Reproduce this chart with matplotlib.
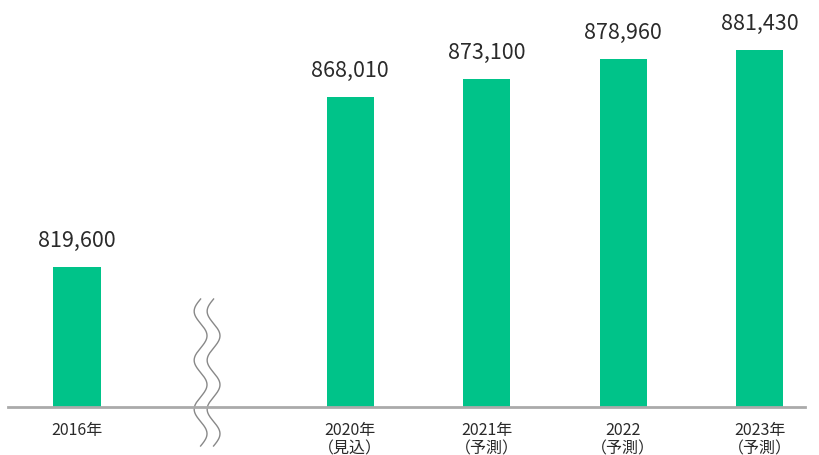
import numpy as np
import matplotlib
matplotlib.use('Agg')
from matplotlib import pyplot as plt

plt.rcParams['font.family'] = ['Noto Sans CJK JP', 'DejaVu Sans']

labels = ['2016年', '2020年\n（見込）', '2021年\n（予測）', '2022\n（予測）', '2023年\n（予測）']
values = [819600, 868010, 873100, 878960, 881430]
value_text = ['819,600', '868,010', '873,100', '878,960', '881,430']
pos = [0, 2, 3, 4, 5]  # slot 1 left empty for the axis break

fig = plt.figure(figsize=(8.2, 4.56), dpi=100)
ax = fig.add_axes([8/820, 48/456, 797/820, 408/456])

base = 779505
per_px = 285.5
ax.bar(pos, [v - base for v in values], bottom=base, width=0.345, color='#00C389')
ax.set_xlim(-0.505, 5.33)
ax.set_ylim(base, base + 408*per_px)

for p, v, t in zip(pos, values, value_text):
    ax.text(p, v + 16*per_px, t, ha='center', va='bottom', fontsize=15.5, color='#2a2a2a')

for p, l in zip(pos, labels):
    ax.text(p, base - 14*per_px, l, ha='center', va='top', fontsize=11.5, color='#2a2a2a',
            linespacing=1.15)

for s in ['top', 'right', 'left']:
    ax.spines[s].set_visible(False)
ax.spines['bottom'].set_color('#AAAAAA')
ax.spines['bottom'].set_linewidth(2)
ax.set_xticks([])
ax.set_yticks([])

# wavy break marks
yy = np.linspace(base + 108*per_px, base - 39*per_px, 200)
ph = np.linspace(0, 3*2*np.pi, 200)
for xc in [0.905, 1.0]:
    ax.plot(xc - 0.047*np.sin(ph), yy, color='#888888', lw=1, clip_on=False)

fig.savefig('out.png', dpi=100)
